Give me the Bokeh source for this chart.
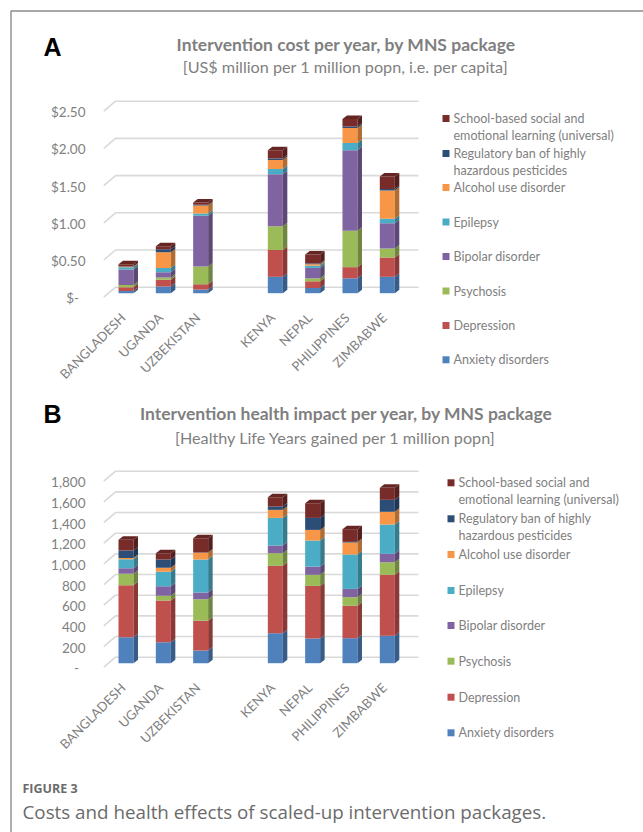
import math
from bokeh.plotting import figure
from bokeh.models import Range1d
from bokeh.core.properties import value
from bokeh.embed import file_html
from bokeh.resources import INLINE

# ---------------------------------------------------------------- data
countries = ["BANGLADESH", "UGANDA", "UZBEKISTAN", "KENYA", "NEPAL", "PHILIPPINES", "ZIMBABWE"]
first_group_size = 3  # a blank slot separates the two country groups

packages = [
    "Anxiety disorders",
    "Depression",
    "Psychosis",
    "Bipolar disorder",
    "Epilepsy",
    "Alcohol use disorder",
    "Regulatory ban of highly hazardous pesticides",
    "School-based social and emotional learning (universal)",
]
legend_lines = [
    ["Anxiety disorders"],
    ["Depression"],
    ["Psychosis"],
    ["Bipolar disorder"],
    ["Epilepsy"],
    ["Alcohol use disorder"],
    ["Regulatory ban of highly", "hazardous pesticides"],
    ["School-based social and", "emotional learning (universal)"],
]
colors = ["#4F81BD", "#C0504D", "#9BBB59", "#8064A2", "#4BACC6", "#F79646", "#2C4D75", "#772C2A"]

# Panel A: cost, US$ million per 1 million population
anxiety_cost = [0.03, 0.09, 0.05, 0.22, 0.07, 0.20, 0.22]
depression_cost = [0.05, 0.09, 0.07, 0.36, 0.09, 0.15, 0.26]
psychosis_cost = [0.03, 0.03, 0.24, 0.32, 0.04, 0.49, 0.12]
bipolar_cost = [0.21, 0.07, 0.68, 0.70, 0.14, 1.08, 0.34]
epilepsy_cost = [0.03, 0.06, 0.03, 0.07, 0.03, 0.10, 0.06]
alcohol_cost = [0.005, 0.21, 0.11, 0.12, 0.02, 0.20, 0.38]
pesticide_cost = [0.005, 0.04, 0.01, 0.02, 0.01, 0.02, 0.02]
school_cost = [0.03, 0.04, 0.03, 0.11, 0.12, 0.10, 0.17]
cost_ticks = [0, 0.5, 1.0, 1.5, 2.0, 2.5]
cost_tick_labels = ["$-", "$0.50", "$1.00", "$1.50", "$2.00", "$2.50"]

# Panel B: healthy life years gained per 1 million population
anxiety_hly = [252, 203, 123, 290, 239, 242, 265]
depression_hly = [503, 403, 287, 652, 509, 313, 590]
psychosis_hly = [110, 46, 209, 123, 107, 84, 122]
bipolar_hly = [54, 93, 65, 74, 80, 80, 81]
epilepsy_hly = [87, 139, 319, 267, 252, 333, 284]
alcohol_hly = [13, 39, 65, 78, 103, 116, 123]
pesticide_hly = [71, 80, 3, 32, 116, 6, 116]
school_hly = [104, 62, 139, 90, 142, 123, 116]
hly_ticks = [0, 200, 400, 600, 800, 1000, 1200, 1400, 1600, 1800]
hly_tick_labels = ["-", "200", "400", "600", "800", "1,000", "1,200", "1,400", "1,600", "1,800"]

cost_series = [anxiety_cost, depression_cost, psychosis_cost, bipolar_cost,
               epilepsy_cost, alcohol_cost, pesticide_cost, school_cost]
hly_series = [anxiety_hly, depression_hly, psychosis_hly, bipolar_hly,
              epilepsy_hly, alcohol_hly, pesticide_hly, school_hly]

# ---------------------------------------------------------------- page geometry (px)
W, H = 643, 832
SLOT0_PX, SLOT_PX, BAR_PX = 125.5, 37.33, 15.0
DEPTH_X, DEPTH_Y = 4.5, 3.5          # bar extrusion
WALL_UP, FLOOR_DOWN = 6.0, 4.0       # back wall / floor front, relative to bar fronts
GRID_LEFT_PX, WALL_LEFT_PX, GRID_RIGHT_PX = 103.3, 115.0, 418.0

GRAY = "#7f7f7f"
FONT = value("Lato")

slots = [i + (1 if i >= first_group_size else 0) for i in range(len(countries))]


def px_to_slot(px):
    return (px - SLOT0_PX) / SLOT_PX


def shade(hex_color, f):
    r, g, b = (int(hex_color[i:i + 2], 16) for i in (1, 3, 5))
    return "#%02x%02x%02x" % (int(r * f), int(g * f), int(b * f))


p = figure(width=W, height=H, output_backend="svg", toolbar_location=None,
           x_range=Range1d(0, W), y_range=Range1d(H, 0),
           x_axis_type=None, y_axis_type=None, min_border=0,
           outline_line_color=None, background_fill_color="white")
p.grid.visible = False
p.extra_x_ranges = {"slot": Range1d(px_to_slot(0), px_to_slot(W))}

# outer frame
p.line(x=[10.5, 10.5, W], y=[H, 10.5, 10.5], line_color="#8c8c8c", line_width=1.4)


def draw_panel(name, series, zero_px, ppu, ticks, tick_labels, letter, letter_y,
               title, title_y, subtitle, sub_x, sub_y, legend_x, legend_rows):
    # value range mapped so that `zero_px` is the front edge of the bars
    p.extra_y_ranges[name] = Range1d((zero_px - H) / ppu, zero_px / ppu)
    kw = dict(x_range_name="slot", y_range_name=name)

    # gridlines: slanted floor edge, then along the back wall
    gx = [px_to_slot(GRID_LEFT_PX), px_to_slot(WALL_LEFT_PX), px_to_slot(GRID_RIGHT_PX)]
    p.multi_line(xs=[gx] * len(ticks),
                 ys=[[t - FLOOR_DOWN / ppu, t + WALL_UP / ppu, t + WALL_UP / ppu] for t in ticks],
                 line_color="#d9d9d9", line_width=1.6, **kw)

    # stacked 3D bars
    w = BAR_PX / SLOT_PX
    dx, dy = DEPTH_X / SLOT_PX, DEPTH_Y / ppu
    bottoms = [0.0] * len(countries)
    for vals, col in zip(series, colors):
        tops = [b + v for b, v in zip(bottoms, vals)]
        p.vbar(x=slots, width=w, bottom=bottoms, top=tops, fill_color=col,
               line_color=None, **kw)
        side_xs, side_ys = [], []
        for s, b, t in zip(slots, bottoms, tops):
            r = s + w / 2
            side_xs.append([r, r + dx, r + dx, r])
            side_ys.append([b, b + dy, t + dy, t])
        p.patches(xs=side_xs, ys=side_ys, fill_color=shade(col, 0.72),
                  line_color=None, **kw)
        bottoms = tops
    top_col = colors[-1]
    p.patches(xs=[[s - w / 2, s - w / 2 + dx, s + w / 2 + dx, s + w / 2] for s in slots],
              ys=[[t, t + dy, t + dy, t] for t in bottoms],
              fill_color=shade(top_col, 0.85), line_color=None, **kw)

    # value tick labels
    tick_x = [78.5 if t == 0 else 85 for t in ticks]
    p.text(x=tick_x, y=ticks, text=tick_labels, y_range_name=name,
           text_align="right", text_baseline="middle", y_offset=5,
           text_font=FONT, text_font_size="13.5px", text_color=GRAY)

    # category labels
    p.text(x=slots, y=[0] * len(slots), text=countries, angle=math.pi / 4,
           text_align="right", text_baseline="middle", x_offset=-3, y_offset=22,
           text_font=FONT, text_font_size="13px", text_color=GRAY, **kw)

    # panel letter, title, subtitle
    p.text(x=[43], y=[letter_y], text=[letter], text_align="left", text_baseline="middle",
           text_font=value("Liberation Sans"), text_font_style="bold",
           text_font_size="25px", text_color="black")
    p.text(x=[346], y=[title_y], text=[title], text_align="center", text_baseline="middle",
           text_font=FONT, text_font_style="bold", text_font_size="17.5px", text_color=GRAY)
    p.text(x=[sub_x], y=[sub_y], text=[subtitle], text_align="center", text_baseline="middle",
           text_font=FONT, text_font_size="16.2px", text_color=GRAY)

    # legend, top entry first
    for lines, col, row_y in zip(legend_lines[::-1], colors[::-1], legend_rows):
        p.rect(x=[legend_x + 3.5], y=[row_y], width=7, height=7,
               fill_color=col, line_color=None)
        p.text(x=[legend_x + 11] * len(lines), y=[row_y + 16.7 * i for i in range(len(lines))],
               text=lines, text_align="left", text_baseline="middle",
               text_font=FONT, text_font_size="12.5px", text_color=GRAY)


draw_panel("a", cost_series, 292.7, 186.0 / 2.5, cost_ticks, cost_tick_labels,
           "A", 46, "Intervention cost per year, by MNS package", 44,
           "[US$ million per 1 million popn, i.e. per capita]", 345, 66,
           442, [118, 153, 187, 221.5, 256, 290.5, 325, 359.3])

draw_panel("b", hly_series, 662.7, 186.0 / 1800, hly_ticks, hly_tick_labels,
           "B", 413, "Intervention health impact per year, by MNS package", 413,
           "[Healthy Life Years gained per 1 million popn]", 335, 437,
           447, [482.3, 518.3, 554, 590, 625, 660.7, 696.7, 732.3])

# figure caption
p.text(x=[22], y=[788], text=["FIGURE 3"], text_align="left", text_baseline="middle",
       text_font=value("Open Sans"), text_font_style="bold", text_font_size="12.5px",
       text_color="#6b6b6b")
p.text(x=[22], y=[811], text=["Costs and health effects of scaled-up intervention packages."],
       text_align="left", text_baseline="middle", text_font=value("Open Sans"),
       text_font_size="18.8px", text_color="#6b6b6b")

open("out.html", "w").write(file_html(p, INLINE))
